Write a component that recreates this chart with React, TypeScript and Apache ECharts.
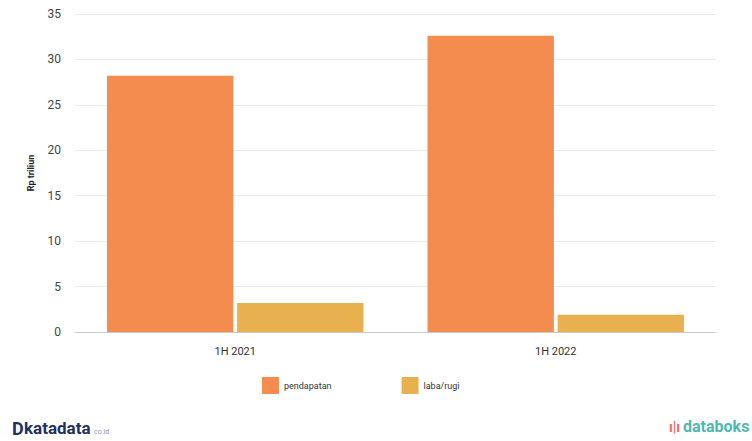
import React, { useEffect, useRef } from "react";
import * as echarts from "echarts";

const categories = ["1H 2021", "1H 2022"];
const pendapatan = [28.2, 32.6];
const labaRugi = [3.2, 1.9];
const seriesNames = ["pendapatan", "laba/rugi"];
const yAxisName = "Rp triliun";

export default function App() {
  const ref = useRef<HTMLDivElement>(null);
  useEffect(() => {
    if (!ref.current) return;
    const chart = echarts.init(ref.current, undefined, { renderer: "svg" });
    chart.setOption({
      animation: false,
      backgroundColor: "#ffffff",
      textStyle: { fontFamily: "Roboto, 'Noto Sans', sans-serif" },
      grid: { left: 75, right: 36, top: 14, bottom: 109, containLabel: false },
      legend: {
        bottom: 42,
        left: 257,
        itemWidth: 17,
        itemHeight: 17,
        itemGap: 70,
        icon: "rect",
        textStyle: { fontSize: 9, color: "#333" },
        data: seriesNames,
      },
      xAxis: {
        type: "category",
        data: categories,
        axisLine: { lineStyle: { color: "#cccccc" } },
        axisTick: { alignWithLabel: true, length: 4, lineStyle: { color: "#cccccc" } },
        axisLabel: { fontSize: 11, color: "#333", margin: 14 },
      },
      yAxis: {
        type: "value",
        min: 0,
        max: 35,
        interval: 5,
        name: yAxisName,
        nameLocation: "middle",
        nameGap: 40,
        nameRotate: 90,
        nameTextStyle: { fontSize: 9, fontWeight: "bold", color: "#222" },
        axisLine: { show: false },
        axisTick: { show: false },
        axisLabel: { fontSize: 12, color: "#444", margin: 14 },
        splitLine: { lineStyle: { color: "#ececec" } },
      },
      series: [
        {
          name: seriesNames[0],
          type: "bar",
          data: pendapatan,
          barGap: "3%",
          barCategoryGap: "20%",
          itemStyle: { color: "#F48C4F" },
        },
        {
          name: seriesNames[1],
          type: "bar",
          data: labaRugi,
          itemStyle: { color: "#E8B04F" },
        },
      ],
      graphic: [
        {
          type: "text",
          left: 12,
          top: 419,
          style: { text: "D", fontSize: 18, fontWeight: "bold", fill: "#1f3163", fontFamily: "Roboto, sans-serif" },
        },
        {
          type: "text",
          left: 24,
          top: 419,
          style: { text: "katadata", fontSize: 17, fontWeight: "bold", fill: "#1f3163", fontFamily: "Roboto, sans-serif" },
        },
        {
          type: "text",
          left: 94,
          top: 428,
          style: { text: "co.id", fontSize: 7, fill: "#8a94a8", fontFamily: "Roboto, sans-serif" },
        },
        {
          type: "text",
          left: 669,
          top: 420,
          style: { text: "ı|ı", fontSize: 14, fontWeight: "bold", fill: "#f06a5a", fontFamily: "Roboto, sans-serif" },
        },
        {
          type: "text",
          left: 683,
          top: 418,
          style: { text: "databoks", fontSize: 16, fontWeight: "bold", fill: "#4fb8b0", fontFamily: "Roboto, sans-serif" },
        },
      ],
    });
    return () => chart.dispose();
  }, []);
  return <div ref={ref} style={{ width: 752, height: 441, position: "absolute", left: 0, top: 0 }} />;
}
